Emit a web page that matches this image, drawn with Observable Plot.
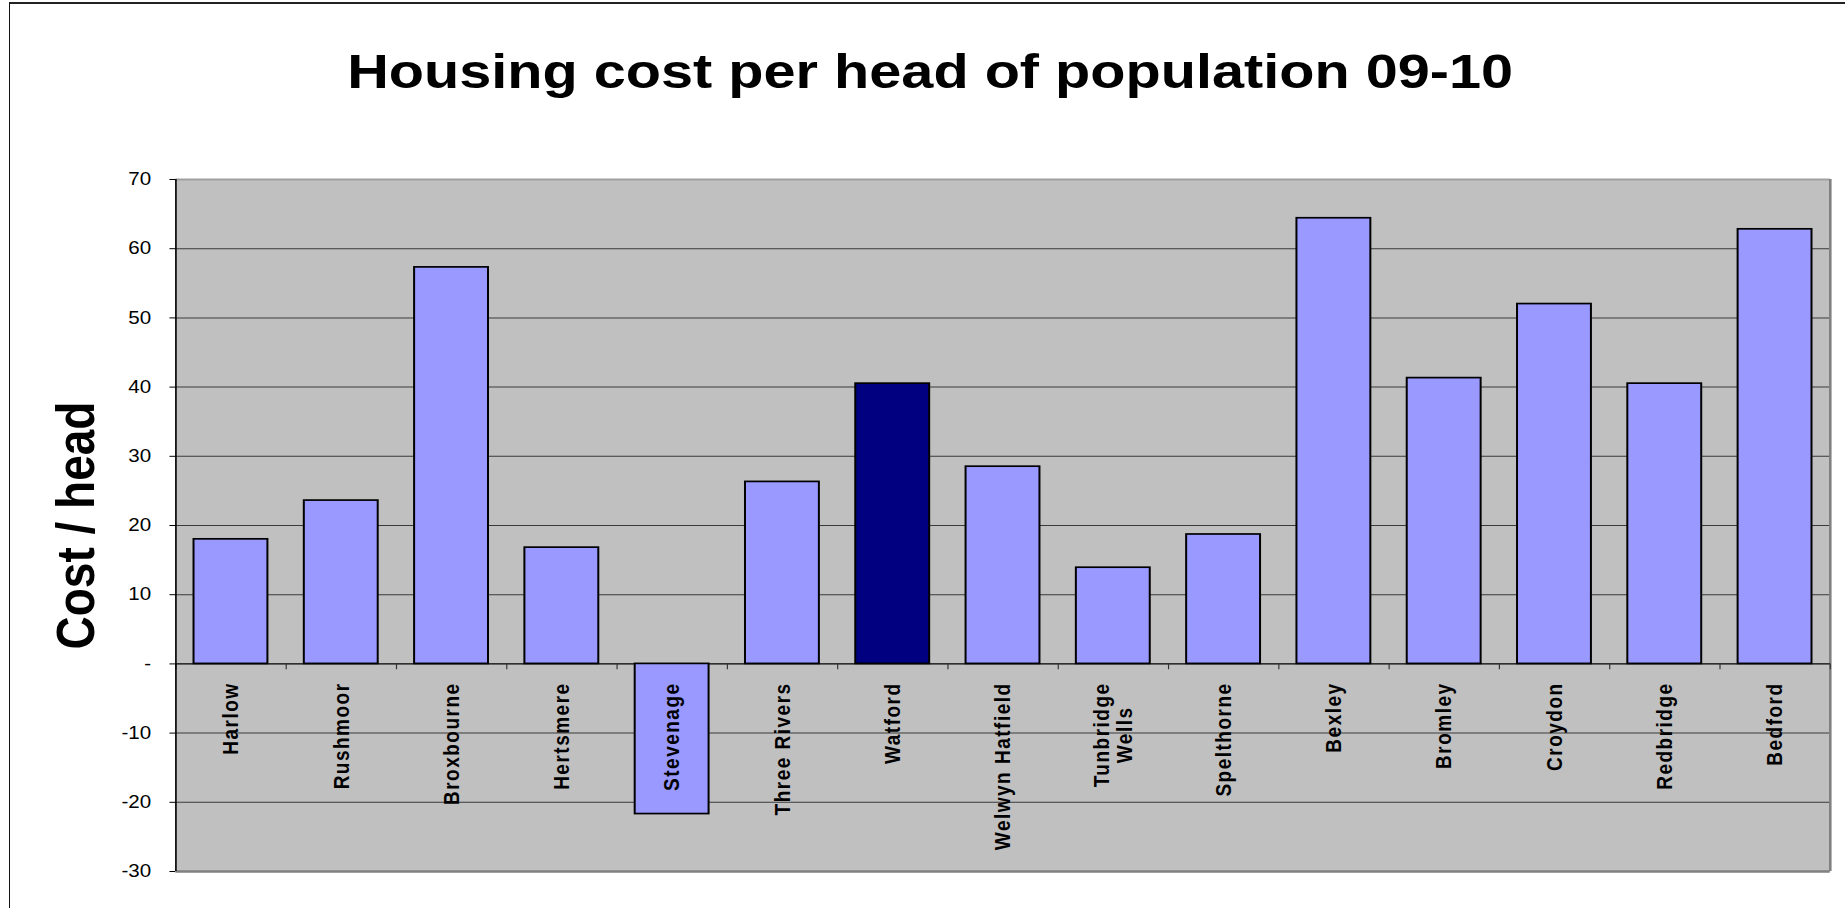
<!DOCTYPE html>
<html><head><meta charset="utf-8">
<script src="https://cdn.jsdelivr.net/npm/d3@7"></script>
<script src="https://cdn.jsdelivr.net/npm/@observablehq/plot@0.6"></script>
<style>
html,body{margin:0;padding:0;background:#fff;}
#wrap{position:relative;width:1845px;height:908px;overflow:hidden;}
#border{position:absolute;left:9px;top:2px;right:-10px;bottom:-10px;border-left:1.5px solid #111;border-top:2px solid #222;pointer-events:none;}
g[aria-description="xlabels"] text{letter-spacing:1.5px;}
</style></head><body>
<div id="wrap"><div id="border"></div></div>
<script>
// ---- data ----
const chartTitle = "Housing cost per head of population 09-10";
const yTitle = "Cost / head";
const councils = ["Harlow","Rushmoor","Broxbourne","Hertsmere","Stevenage","Three Rivers","Watford","Welwyn Hatfield","Tunbridge Wells","Spelthorne","Bexley","Bromley","Croydon","Redbridge","Bedford"];
const councilLabels = ["Harlow","Rushmoor","Broxbourne","Hertsmere","Stevenage","Three Rivers","Watford","Welwyn Hatfield","Tunbridge\nWells","Spelthorne","Bexley","Bromley","Croydon","Redbridge","Bedford"];
const costPerHead = [18.0,23.6,57.3,16.8,-21.7,26.3,40.5,28.5,13.9,18.7,64.4,41.3,52.0,40.5,62.8];
const highlighted = ["Watford"];
const yTicks = [-30,-20,-10,0,10,20,30,40,50,60,70];
const yTickLabels = ["-30","-20","-10","-","10","20","30","40","50","60","70"];

// ---- layout (drawn at 1568 wide, displayed stretched to 1845 like the reference) ----
const W = 1568, H = 908, DISPLAY_W = 1845;
const ML = 149, MR = 13, MT = 179, MB = 37;
const step = (W - ML - MR) / councils.length;
const FONT = "'Liberation Sans', Arial, Helvetica, sans-serif";

const data = councils.map((c, i) => ({name: c, label: councilLabels[i], value: costPerHead[i],
  color: highlighted.includes(c) ? "#000080" : "#9999FF"}));
const single = data.filter(d => !d.label.includes("\n"));
const multi = data.filter(d => d.label.includes("\n"));

// measure the longest line of multi-line labels to centre them like the reference
const ctx = document.createElement("canvas").getContext("2d");
ctx.font = `bold 19px ${FONT}`;
const longest = (s) => d3.max(s.split("\n"), l => ctx.measureText(l).width + l.length * 1.5);
const multiLen = multi.length ? longest(multi[0].label) : 0;

const grid = yTicks.filter(t => t !== 0 && t !== yTicks[0] && t !== yTicks[yTicks.length - 1]);

const svg = Plot.plot({
  width: W, height: H,
  marginLeft: ML, marginRight: MR, marginTop: MT, marginBottom: MB,
  style: {fontFamily: FONT, fontSize: "17.5px", color: "#000", background: "transparent"},
  x: {domain: councils, paddingInner: 0.33, paddingOuter: 0.165, round: false, axis: null},
  y: {domain: [yTicks[0], yTicks[yTicks.length - 1]], ticks: yTicks,
      tickFormat: d => yTickLabels[yTicks.indexOf(d)], tickSize: 5, tickPadding: 16, label: null},
  color: {type: "identity"},
  marks: [
    Plot.frame({fill: "#C0C0C0", stroke: null}),
    Plot.ruleY(grid, {stroke: "#3a3a3a", strokeWidth: 1}),
    Plot.ruleY([yTicks[yTicks.length - 1]], {stroke: "#a0a0a0", strokeWidth: 2}),
    Plot.ruleY([yTicks[0]], {stroke: "#808080", strokeWidth: 2.5}),
    Plot.ruleX([councils[councils.length - 1]], {dx: step / 2, y1: yTicks[0], y2: yTicks[yTicks.length - 1], stroke: "#808080", strokeWidth: 2.2}),
    Plot.ruleY([0], {stroke: "#000", strokeWidth: 1.4}),
    Plot.ruleX(councils, {dx: -step / 2, y1: 0, y2: -0.85, stroke: "#333", strokeWidth: 1}),
    Plot.ruleX([councils[councils.length - 1]], {dx: step / 2, y1: 0, y2: -0.85, stroke: "#333", strokeWidth: 1}),
    Plot.ruleX([councils[0]], {dx: -step / 2, y1: yTicks[0], y2: yTicks[yTicks.length - 1], stroke: "#000", strokeWidth: 1.4}),
    Plot.barY(data, {x: "name", y: "value", fill: "color", stroke: "#000", strokeWidth: 1.7}),
    Plot.text(single, {x: "name", y: 0, text: "label", rotate: -90, textAnchor: "end", dy: 18.5,
      fontSize: 19, fontWeight: "bold", fill: "#000", ariaDescription: "xlabels"}),
    Plot.text(multi, {x: "name", y: 0, text: "label", rotate: -90, textAnchor: "middle", lineAnchor: "middle",
      dy: 18.5 + multiLen / 2, fontSize: 19, fontWeight: "bold", fill: "#000", ariaDescription: "xlabels"}),
    Plot.text([chartTitle], {text: d => d, frameAnchor: "top", lineAnchor: "bottom", dx: 790 - (ML + W - MR) / 2, dy: 87 - MT,
      fontSize: 49, fontWeight: "bold", fill: "#000"}),
    Plot.text([yTitle], {text: d => d, frameAnchor: "left", rotate: -90, textAnchor: "middle", lineAnchor: "bottom",
      dx: 79 - ML, fontSize: 46, fontWeight: "bold", fill: "#000"})
  ]
});
svg.setAttribute("width", DISPLAY_W);
svg.setAttribute("height", H);
svg.setAttribute("preserveAspectRatio", "none");
svg.style.width = DISPLAY_W + "px";
svg.style.height = H + "px";
svg.style.maxWidth = "none";
svg.style.display = "block";
document.getElementById("wrap").prepend(svg);
</script>
</body></html>
